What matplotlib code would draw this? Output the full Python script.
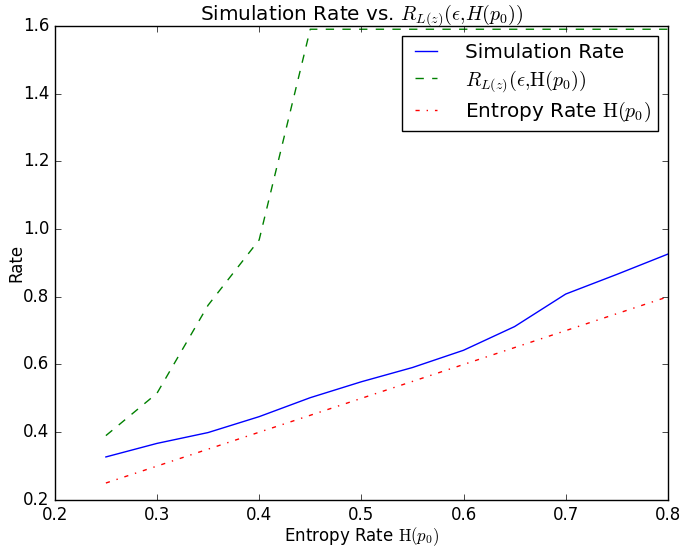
import matplotlib
matplotlib.use("Agg")
import matplotlib.pyplot as plt

plt.style.use("classic")
plt.rcParams["mathtext.fontset"] = "cm"
plt.rcParams["font.family"] = ["DejaVu Sans"]

entropy = [0.25, 0.30, 0.35, 0.40, 0.45, 0.50, 0.55, 0.60, 0.65, 0.70, 0.75, 0.80]
sim_rate = [0.327, 0.367, 0.399, 0.446, 0.502, 0.549, 0.591, 0.642, 0.712, 0.808, 0.866, 0.926]
bound_rate = [0.39, 0.515, 0.775, 0.968, 1.59, 1.59, 1.59, 1.59, 1.59, 1.59, 1.59, 1.59]

fig = plt.figure(figsize=(6.85, 5.5), dpi=100, facecolor="white")
ax = fig.add_axes([0.080, 0.091, 0.895, 0.862])

ax.plot(entropy, sim_rate, "b-", label="Simulation Rate")
ax.plot(entropy, bound_rate, "g--", label=r"$R_{L(z)}(\epsilon{,}\mathrm{H}(p_0))$")
ax.plot(entropy, entropy, "r-.", label=r"Entropy Rate $\mathrm{H}(p_0)$")

ax.set_xlim(0.2, 0.8)
ax.set_ylim(0.2, 1.6)
ax.set_xlabel(r"Entropy Rate $\mathrm{H}(p_0)$")
ax.set_ylabel("Rate")
ax.xaxis.set_label_coords(0.5, -0.053)
ax.yaxis.set_label_coords(-0.0476, 0.5)
ax.set_title(r"Simulation Rate vs. $R_{L(z)}(\epsilon{,}H(p_0))$")

leg = ax.legend(loc="upper right", fancybox=False, handlelength=1.7,
                handletextpad=1.1, labelspacing=0.3, borderpad=0.35)
leg.get_frame().set_edgecolor("black")

fig.savefig("out.png", dpi=100, facecolor="white")
